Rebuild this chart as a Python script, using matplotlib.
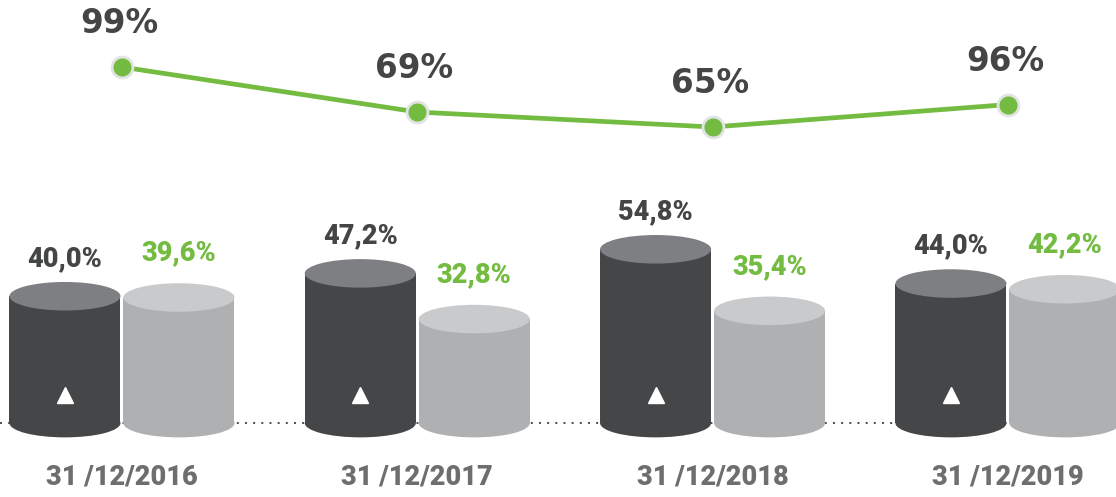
import matplotlib
matplotlib.use("Agg")
import matplotlib.pyplot as plt
from matplotlib.patches import Ellipse, Rectangle

# =========================
# DATA
# =========================
dates = ["31 /12/2016", "31 /12/2017", "31 /12/2018", "31 /12/2019"]
dark_vals = [40.0, 47.2, 54.8, 44.0]
light_vals = [39.6, 32.8, 35.4, 42.2]
line_labels = [99, 69, 65, 96]
# line is not drawn to scale in the original, heights read off the picture
line_level = [99, 69, 59, 74]

# =========================
# STYLE
# =========================
DARK_BODY = "#454648"
DARK_TOP = "#7e7f82"
LIGHT_BODY = "#afb0b2"
LIGHT_TOP = "#c9cacc"
GREEN = "#74bc41"
TXT_DARK = "#444546"
TXT_DATE = "#6d6e70"

BAR_FONT = ["Roboto", "DejaVu Sans"]

fig = plt.figure(figsize=(11.16, 4.97), dpi=100)

# bars axes (units: percent)
ax = fig.add_axes([0, 0, 1, 1])
ax.set_xlim(-0.413, 3.366)
ax.set_ylim(-23.3, 133.4)
ax.axis("off")

offset = 0.193
half_w = 0.188
ell_h = 9.0

# dotted baseline
ax.plot([-0.413, 3.366], [0, 0], linestyle=(0, (1, 3.2)), color="#4a4b4d",
        linewidth=1.4, zorder=1)


def cylinder(xc, val, body, top, z):
    ax.add_patch(Ellipse((xc, 0), 2 * half_w, ell_h, facecolor=body,
                         edgecolor="none", zorder=z))
    ax.add_patch(Rectangle((xc - half_w, 0), 2 * half_w, val, facecolor=body,
                           edgecolor="none", zorder=z))
    ax.add_patch(Ellipse((xc, val), 2 * half_w, ell_h, facecolor=top,
                         edgecolor="none", zorder=z + 0.1))


for i in range(len(dates)):
    xd = i - offset
    xl = i + offset
    cylinder(xd, dark_vals[i], DARK_BODY, DARK_TOP, 2)
    cylinder(xl, light_vals[i], LIGHT_BODY, LIGHT_TOP, 3)
    ax.plot(xd, 9, marker="^", color="white", markersize=11, zorder=5)

    ax.annotate(f"{dark_vals[i]:.1f}%".replace(".", ","), (xd, dark_vals[i]),
                xytext=(0, 27), textcoords="offset points", ha="center",
                va="center", fontsize=19.5, fontweight="black", color=TXT_DARK,
                family=BAR_FONT)
    ax.annotate(f"{light_vals[i]:.1f}%".replace(".", ","), (xl, light_vals[i]),
                xytext=(0, 32), textcoords="offset points", ha="center",
                va="center", fontsize=19.5, fontweight="black", color=GREEN,
                family=BAR_FONT)
    ax.annotate(dates[i], (i, 0), xytext=(0, -39), textcoords="offset points",
                ha="center", va="center", fontsize=19.5, fontweight="black",
                color=TXT_DATE, family=BAR_FONT)

# line axes
ax2 = fig.add_axes([0, 0, 1, 1])
ax2.set_xlim(-0.413, 3.366)
ax2.set_ylim(-187.7, 143.7)
ax2.axis("off")
xs = list(range(len(dates)))
ax2.plot(xs, line_level, color=GREEN, linewidth=3.4, zorder=3,
         marker="o", markersize=15, markerfacecolor=GREEN,
         markeredgecolor="#e2e3e4", markeredgewidth=2)
for x, lv, lab in zip(xs, line_level, line_labels):
    ax2.annotate(f"{lab}%", (x, lv), xytext=(-2, 31), textcoords="offset points",
                 ha="center", va="center", fontsize=23.5, fontweight="bold",
                 color=TXT_DARK)

fig.savefig("out.png", dpi=100)
